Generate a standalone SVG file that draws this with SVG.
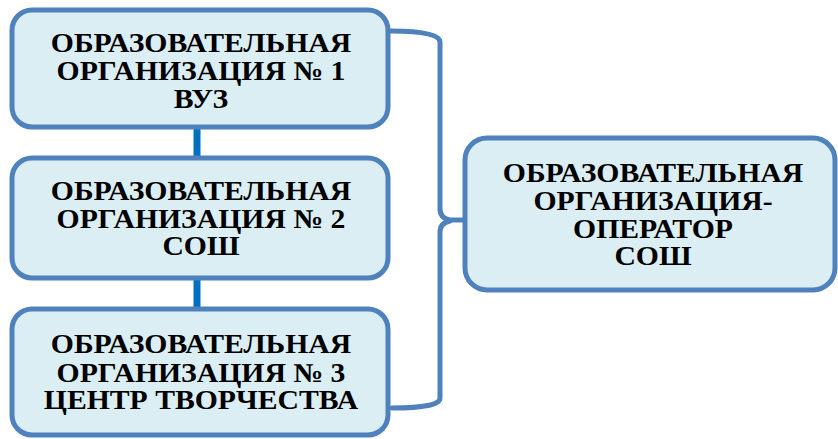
<svg xmlns="http://www.w3.org/2000/svg" width="838" height="439" viewBox="0 0 838 439">
<defs>
<style>
.box{fill:#dbeef4;stroke:#4f81bd;stroke-width:5}
.link{stroke:#0070c0;stroke-width:7;fill:none}
.brace{stroke:#4f81bd;stroke-width:5;fill:none;stroke-linecap:round;stroke-linejoin:round}
</style>
</defs>
<rect width="838" height="439" fill="#fff"/>
<g id="connectors">
<line class="link" x1="197" y1="128" x2="197" y2="158"/>
<line class="link" x1="197" y1="278" x2="197" y2="309"/>
<path class="brace" d="M391,31 Q440,31 440,42 L440,209 Q440,218 450,220 L493,220 M450,221 Q440,223 440,232 L440,398 Q440,408 392,408"/>
</g>
<g id="node1">
<rect class="box" x="12" y="10" width="376" height="117" rx="20"/>
<g transform="translate(201,0) scale(1.1,1)" font-family="Liberation Serif, serif" font-size="27" font-weight="bold" text-anchor="middle" fill="#000">
<text x="0" y="52">ОБРАЗОВАТЕЛЬНАЯ</text>
<text x="0" y="80">ОРГАНИЗАЦИЯ № 1</text>
<text x="0" y="108">ВУЗ</text>
</g>
</g>
<g id="node2">
<rect class="box" x="12" y="158" width="376" height="120" rx="20"/>
<g transform="translate(201,0) scale(1.1,1)" font-family="Liberation Serif, serif" font-size="27" font-weight="bold" text-anchor="middle" fill="#000">
<text x="0" y="200">ОБРАЗОВАТЕЛЬНАЯ</text>
<text x="0" y="228">ОРГАНИЗАЦИЯ № 2</text>
<text x="0" y="255">СОШ</text>
</g>
</g>
<g id="node3">
<rect class="box" x="12" y="309" width="376" height="126" rx="20"/>
<g transform="translate(201,0) scale(1.1,1)" font-family="Liberation Serif, serif" font-size="27" font-weight="bold" text-anchor="middle" fill="#000">
<text x="0" y="353">ОБРАЗОВАТЕЛЬНАЯ</text>
<text x="0" y="382">ОРГАНИЗАЦИЯ № 3</text>
<text x="0" y="409">ЦЕНТР ТВОРЧЕСТВА</text>
</g>
</g>
<g id="node4">
<rect class="box" x="465" y="138" width="370" height="152" rx="22"/>
<g transform="translate(653,0) scale(1.1,1)" font-family="Liberation Serif, serif" font-size="27" font-weight="bold" text-anchor="middle" fill="#000">
<text x="0" y="182">ОБРАЗОВАТЕЛЬНАЯ</text>
<text x="0" y="210">ОРГАНИЗАЦИЯ-</text>
<text x="0" y="238">ОПЕРАТОР</text>
<text x="0" y="265">СОШ</text>
</g>
</g>
</svg>
